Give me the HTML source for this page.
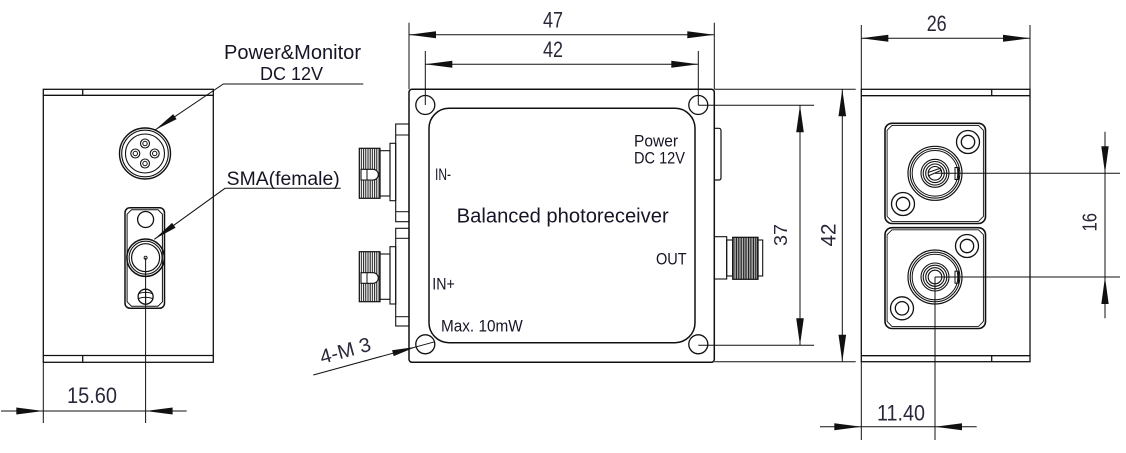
<!DOCTYPE html>
<html><head><meta charset="utf-8"><style>
html,body{margin:0;padding:0;background:#fff;}
svg{display:block;}
text{font-family:"Liberation Sans",sans-serif;}
.d{fill:#2a2838;}
.l{fill:#151525;}
</style></head><body>
<svg width="1126" height="453" viewBox="0 0 1126 453" xmlns="http://www.w3.org/2000/svg">
<defs>
<pattern id="kn" width="2.2" height="6" patternUnits="userSpaceOnUse"><rect width="2.2" height="6" fill="#fff"/><line x1="0.6" y1="0" x2="0.6" y2="6" stroke="#111" stroke-width="1"/></pattern>
<pattern id="kn2" width="1.7" height="6" patternUnits="userSpaceOnUse"><rect width="1.7" height="6" fill="#fff"/><line x1="0.5" y1="0" x2="0.5" y2="6" stroke="#111" stroke-width="1.1"/></pattern>
</defs>
<g fill="none" stroke="#111" stroke-width="1.3">
<!-- LEFT VIEW -->
<rect x="43.3" y="89.3" width="170" height="273"/>
<line x1="43.3" y1="95.3" x2="213.3" y2="95.3"/>
<line x1="43.3" y1="355.5" x2="213.3" y2="355.5"/>
<line x1="82.7" y1="89.3" x2="82.7" y2="95.3"/>
<line x1="82.7" y1="355.5" x2="82.7" y2="362.3"/>
<!-- power connector -->
<circle cx="145" cy="153.5" r="25.5" stroke-width="1.4"/>
<circle cx="145" cy="153.5" r="23.3" stroke-width="1.1"/>
<circle cx="145" cy="153.5" r="19.5" stroke-width="1.1"/>
<circle cx="145" cy="143.5" r="4.5" stroke-width="1.1"/><circle cx="145" cy="143.5" r="2.2" stroke-width="1"/>
<circle cx="145" cy="163.5" r="4.5" stroke-width="1.1"/><circle cx="145" cy="163.5" r="2.2" stroke-width="1"/>
<circle cx="135.3" cy="153.5" r="4.5" stroke-width="1.1"/><circle cx="135.3" cy="153.5" r="2.2" stroke-width="1"/>
<circle cx="154.7" cy="153.5" r="4.5" stroke-width="1.1"/><circle cx="154.7" cy="153.5" r="2.2" stroke-width="1"/>
<!-- SMA bracket -->
<rect x="125" y="207.7" width="39.5" height="100.6" rx="5" stroke-width="1.5"/>
<path d="M131.5,209.8 H158 L162.4,214.2 V301.8 L158,306.2 H131.5 L127.1,301.8 V214.2 Z" stroke-width="1"/>
<circle cx="145.6" cy="219.5" r="8" stroke-width="1.3"/>
<circle cx="145.6" cy="257.7" r="18.7" stroke-width="1.5"/>
<circle cx="145.6" cy="257.7" r="16.5" stroke-width="1.1"/>
<circle cx="145.6" cy="257.7" r="14" stroke-width="1.2"/>
<circle cx="145.6" cy="257.7" r="1.5" stroke-width="0.9"/>
<circle cx="145.6" cy="296.7" r="7.5" stroke-width="1.3"/>
<path d="M139,293.5 Q145.6,291 152,293.5 M138.5,298.5 Q145.6,296 152.5,298.5 M145.6,290 V303" stroke-width="1"/>
<!-- leaders -->
<polyline points="363.3,84 223.3,84 155,130" stroke-width="1"/>
<polyline points="340.7,188.3 225,188.3 154.3,239.3" stroke-width="1"/>
<!-- 15.60 dim -->
<line x1="43.3" y1="362.3" x2="43.3" y2="423" stroke-width="1"/>
<line x1="145.6" y1="257.7" x2="145.6" y2="423" stroke-width="1"/>
<line x1="1" y1="411" x2="186.7" y2="411" stroke-width="1"/>

<!-- MIDDLE VIEW -->
<rect x="409" y="89.3" width="305.3" height="273" rx="3" stroke-width="1.5"/>
<rect x="429" y="108.3" width="266" height="234.4" rx="20" stroke-width="1.5"/>
<circle cx="425.3" cy="105" r="9.5"/><circle cx="698.3" cy="105" r="9.5"/>
<circle cx="425.3" cy="344.3" r="9.5"/><circle cx="698.3" cy="344.3" r="9.5"/>
<!-- left plates -->
<rect x="395.7" y="124" width="13.3" height="97.7" stroke-width="1.1"/>
<line x1="395.7" y1="135" x2="409" y2="135" stroke-width="1"/>
<line x1="395.7" y1="211.7" x2="409" y2="211.7" stroke-width="1"/>
<rect x="395.7" y="228.3" width="13.3" height="97.7" stroke-width="1.1"/>
<line x1="395.7" y1="238.3" x2="409" y2="238.3" stroke-width="1"/>
<line x1="395.7" y1="316.7" x2="409" y2="316.7" stroke-width="1"/>
<!-- connectors IN- -->
<rect x="390" y="143.3" width="5.7" height="57.4" stroke-width="1.1"/>
<rect x="380" y="150.7" width="10" height="45.3" stroke-width="1.1"/>
<rect x="359.3" y="148.3" width="20.7" height="50" fill="url(#kn)" stroke-width="1.2"/>
<path d="M361,169.3 H373 A5.3,5.3 0 0 1 373,180 H361 Z" fill="#fff" stroke-width="1.1"/>
<line x1="367" y1="169.3" x2="367" y2="180" stroke-width="1"/>
<!-- IN+ -->
<rect x="390" y="246.7" width="5.7" height="57.3" stroke-width="1.1"/>
<rect x="380" y="254" width="10" height="45.3" stroke-width="1.1"/>
<rect x="359.3" y="251.7" width="20.7" height="50" fill="url(#kn)" stroke-width="1.2"/>
<path d="M361,272.7 H373 A5.3,5.3 0 0 1 373,283.3 H361 Z" fill="#fff" stroke-width="1.1"/>
<line x1="367" y1="272.7" x2="367" y2="283.3" stroke-width="1"/>
<!-- right side small rect -->
<path d="M714.3,128.3 H719 Q721,128.3 721,131 V177.5 Q721,180 719,180 H714.3" stroke-width="1.2"/>
<!-- OUT connector -->
<rect x="714.3" y="236.7" width="12.4" height="42.3" stroke-width="1.1"/>
<rect x="726.7" y="240" width="6" height="36" stroke-width="1.1"/>
<rect x="732.7" y="237.3" width="25.3" height="42" fill="url(#kn2)" stroke-width="1.2"/>
<rect x="758" y="240" width="4.7" height="36" stroke-width="1.1"/>
<!-- 47 dim -->
<line x1="409" y1="22.7" x2="409" y2="89.3" stroke-width="1"/>
<line x1="714.3" y1="22.7" x2="714.3" y2="89.3" stroke-width="1"/>
<line x1="409" y1="34.7" x2="714.3" y2="34.7" stroke-width="1"/>
<!-- 42 dim -->
<line x1="425.3" y1="51" x2="425.3" y2="105" stroke-width="1"/>
<line x1="698.3" y1="51" x2="698.3" y2="105" stroke-width="1"/>
<line x1="425.3" y1="64.3" x2="698.3" y2="64.3" stroke-width="1"/>
<!-- 4-M 3 leader -->
<line x1="313.3" y1="375" x2="435" y2="341.7" stroke-width="1"/>
<!-- vertical 37 / 42 dims -->
<line x1="698.3" y1="105.3" x2="814" y2="105.3" stroke-width="1"/>
<line x1="698.3" y1="345.3" x2="814" y2="345.3" stroke-width="1"/>
<line x1="800" y1="105.3" x2="800" y2="345.3" stroke-width="1"/>
<line x1="714.3" y1="89.3" x2="855.7" y2="89.3" stroke-width="1"/>
<line x1="714.3" y1="361.7" x2="855.7" y2="361.7" stroke-width="1"/>
<line x1="842.3" y1="89.3" x2="842.3" y2="361.7" stroke-width="1"/>

<!-- RIGHT VIEW -->
<rect x="861.3" y="89.3" width="168.7" height="272.4"/>
<line x1="861.3" y1="95.7" x2="1030" y2="95.7"/>
<line x1="861.3" y1="355.7" x2="1030" y2="355.7"/>
<line x1="991.7" y1="89.3" x2="991.7" y2="95.7"/>
<line x1="991.7" y1="355.7" x2="991.7" y2="361.7"/>
<!-- 26 dim -->
<line x1="861.3" y1="25" x2="861.3" y2="89.3" stroke-width="1"/>
<line x1="1030" y1="25" x2="1030" y2="89.3" stroke-width="1"/>
<line x1="861.3" y1="38.3" x2="1030" y2="38.3" stroke-width="1"/>
<!-- top adapter -->
<rect x="885" y="123.3" width="100.5" height="100.2" rx="7" stroke-width="1.6"/>
<path d="M892,125.4 H978.5 L983.4,130.3 V216.5 L978.5,221.4 H892 L887.1,216.5 V130.3 Z" stroke-width="0.9"/>
<circle cx="968" cy="142" r="11.5"/><circle cx="968" cy="142" r="6.7"/>
<circle cx="903" cy="204" r="11.5"/><circle cx="903" cy="204" r="6.7"/>
<circle cx="935" cy="173.3" r="27" stroke-width="1.2"/>
<circle cx="935" cy="173.3" r="24.8" stroke-width="1.1"/>
<circle cx="935" cy="173.3" r="22.8" stroke-width="1"/>
<circle cx="935" cy="173.3" r="14" stroke-width="1.1"/>
<circle cx="935" cy="173.3" r="11.8" stroke-width="1.1"/>
<circle cx="935" cy="173.3" r="9.3" stroke-width="1.1"/>
<circle cx="935" cy="173.3" r="6.8" stroke-width="1.1"/>
<path d="M928,176 L942,170 M928,172.5 L941,168" stroke-width="1"/>
<rect x="955" y="167.5" width="3.5" height="12" stroke-width="1"/>
<!-- bottom adapter -->
<rect x="885" y="227.7" width="100.5" height="100.8" rx="7" stroke-width="1.6"/>
<path d="M892,229.8 H978.5 L983.4,234.7 V321.5 L978.5,326.4 H892 L887.1,321.5 V234.7 Z" stroke-width="0.9"/>
<circle cx="967" cy="246" r="11.5"/><circle cx="967" cy="246" r="6.7"/>
<circle cx="902" cy="308.3" r="11.5"/><circle cx="902" cy="308.3" r="6.7"/>
<circle cx="935" cy="277" r="27" stroke-width="1.2"/>
<circle cx="935" cy="277" r="24.8" stroke-width="1.1"/>
<circle cx="935" cy="277" r="22.8" stroke-width="1"/>
<circle cx="935" cy="277" r="14" stroke-width="1.1"/>
<circle cx="935" cy="277" r="11.8" stroke-width="1.1"/>
<circle cx="935" cy="277" r="9.3" stroke-width="1.1"/>
<circle cx="935" cy="277" r="6.8" stroke-width="1.1"/>
<rect x="955" y="271.2" width="3.5" height="12" stroke-width="1"/>
<!-- centerlines & 16 dim -->
<line x1="935" y1="173.3" x2="1120" y2="173.3" stroke-width="1"/>
<line x1="935" y1="277" x2="1120" y2="277" stroke-width="1"/>
<line x1="1105" y1="131.7" x2="1105" y2="318.3" stroke-width="1"/>
<!-- 11.40 dim -->
<line x1="861.3" y1="361.7" x2="861.3" y2="440" stroke-width="1"/>
<line x1="935" y1="277" x2="935" y2="440" stroke-width="1"/>
<line x1="820" y1="426.7" x2="976.7" y2="426.7" stroke-width="1"/>
</g>

<!-- ARROWHEADS -->
<g fill="#111" stroke="none">
<polygon points="155,130 176.6,119.1 173.2,114.1"/>
<polygon points="154.3,239.3 175.55,227.7 172.05,222.9"/>
<polygon points="43.3,411 16.3,407.5 16.3,414.5"/>
<polygon points="145.6,411 172.6,407.5 172.6,414.5"/>
<polygon points="409,34.7 436,31.2 436,38.2"/>
<polygon points="714.3,34.7 687.3,31.2 687.3,38.2"/>
<polygon points="425.3,64.3 452.3,60.8 452.3,67.8"/>
<polygon points="698.3,64.3 671.3,60.8 671.3,67.8"/>
<polygon points="416,346.9 393.7,356.1 392.1,350.3"/>
<polygon points="800,105.3 796.2,132.3 803.8,132.3"/>
<polygon points="800,345.3 796.2,318.3 803.8,318.3"/>
<polygon points="842.3,89.3 838.5,116.3 846.1,116.3"/>
<polygon points="842.3,361.7 838.5,334.7 846.1,334.7"/>
<polygon points="861.3,38.3 888.3,34.8 888.3,41.8"/>
<polygon points="1030,38.3 1003,34.8 1003,41.8"/>
<polygon points="1105,173.3 1101.3,146.3 1108.7,146.3"/>
<polygon points="1105,277 1101.3,304 1108.7,304"/>
<polygon points="861.3,426.7 834.3,423.2 834.3,430.2"/>
<polygon points="935,426.7 962,423.2 962,430.2"/>
</g>

<!-- LABELS -->
<text class="l" x="224" y="59" font-size="20" textLength="137" lengthAdjust="spacingAndGlyphs">Power&amp;Monitor</text>
<text class="l" x="260" y="80" font-size="18" textLength="63" lengthAdjust="spacingAndGlyphs">DC 12V</text>
<text class="l" x="226.7" y="185" font-size="19" textLength="113" lengthAdjust="spacingAndGlyphs">SMA(female)</text>

<text class="l" x="435" y="180" font-size="17" textLength="16" lengthAdjust="spacingAndGlyphs">IN-</text>
<text class="l" x="432.3" y="289.3" font-size="17" textLength="22.5" lengthAdjust="spacingAndGlyphs">IN+</text>
<text class="l" x="634" y="146.7" font-size="17" textLength="44" lengthAdjust="spacingAndGlyphs">Power</text>
<text class="l" x="634" y="163.3" font-size="17" textLength="51" lengthAdjust="spacingAndGlyphs">DC 12V</text>
<text class="l" x="456.7" y="222.7" font-size="20" textLength="212" lengthAdjust="spacingAndGlyphs">Balanced photoreceiver</text>
<text class="l" x="656" y="264.3" font-size="17" textLength="30.7" lengthAdjust="spacingAndGlyphs">OUT</text>
<text class="l" x="441" y="331.7" font-size="17" textLength="81.7" lengthAdjust="spacingAndGlyphs">Max. 10mW</text>

<!-- DIMENSION NUMERALS -->
<text class="d" x="543" y="27.5" font-size="22" textLength="20" lengthAdjust="spacingAndGlyphs">47</text>
<text class="d" x="543" y="57" font-size="22" textLength="20" lengthAdjust="spacingAndGlyphs">42</text>
<text class="d" x="926.7" y="31" font-size="22" textLength="20" lengthAdjust="spacingAndGlyphs">26</text>
<text class="d" x="67" y="403" font-size="22" textLength="50" lengthAdjust="spacingAndGlyphs">15.60</text>
<text class="d" x="877" y="420.5" font-size="22" textLength="48" lengthAdjust="spacingAndGlyphs">11.40</text>
<text class="d" transform="translate(787,246) rotate(-90)" x="0" y="0" font-size="18" textLength="22" lengthAdjust="spacingAndGlyphs">37</text>
<text class="d" transform="translate(835.5,246.5) rotate(-90)" x="0" y="0" font-size="21" textLength="23" lengthAdjust="spacingAndGlyphs">42</text>
<text class="d" transform="translate(1096.7,231.5) rotate(-90)" x="0" y="0" font-size="20" textLength="18.5" lengthAdjust="spacingAndGlyphs">16</text>
<text class="d" transform="translate(322,364) rotate(-15.3)" x="0" y="0" font-size="20" textLength="52" lengthAdjust="spacingAndGlyphs">4-M 3</text>
</svg>
</body></html>
